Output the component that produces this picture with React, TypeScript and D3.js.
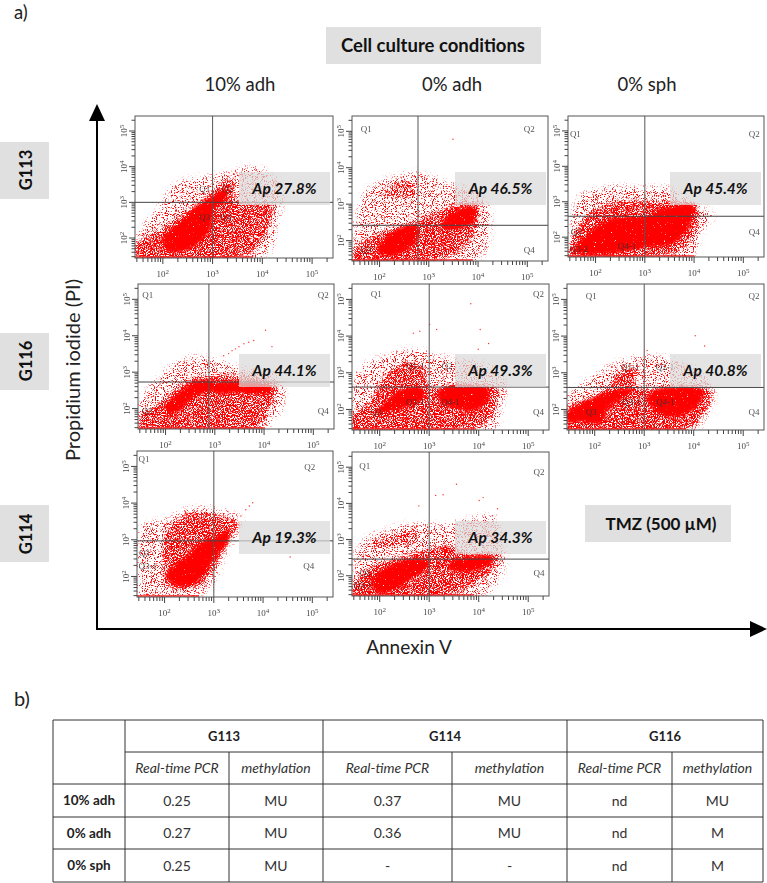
import React from "react";
import * as d3 from "d3";

type Pt = [number, number]; // decimal exponents of annexin, PI
type Lbl = [string, number, number];

const conditions = ["10% adh", "0% adh", "0% sph"];
const decades = [2, 3, 4, 5];

// outlines of the event clouds (log10 units)
const sparseA1: Pt[] = [[1.44, 2.0], [2.0, 3.06], [2.2, 3.53], [2.94, 3.76], [3.95, 4.0], [4.42, 3.43], [4.35, 2.58], [4.08, 1.5], [1.44, 1.43]];
const mediumA1: Pt[] = [[1.46, 1.88], [1.93, 2.25], [2.67, 2.96], [3.41, 3.72], [3.51, 3.06], [4.21, 2.96], [4.15, 2.3], [3.74, 1.55], [1.46, 1.45]];
const denseA1: Pt[] = [[1.95, 1.95], [2.3, 2.45], [2.7, 2.95], [3.0, 3.2], [3.3, 3.42], [3.3, 3.05], [3.05, 2.75], [2.95, 2.2], [2.6, 1.7], [2.1, 1.6]];

const sparseA2: Pt[] = [[1.46, 2.16], [1.7, 3.37], [2.1, 3.7], [2.71, 3.89], [3.45, 3.61], [4.06, 3.28], [4.26, 2.72], [4.06, 1.5], [1.49, 1.39]];
const mediumA2: Pt[] = [[1.46, 1.79], [1.97, 2.21], [2.57, 2.49], [3.32, 2.91], [3.72, 3.09], [4.06, 2.95], [3.99, 2.35], [3.72, 1.79], [3.18, 1.46], [1.46, 1.41]];
const upperA2: Pt[] = [[2.0, 3.28], [2.37, 3.61], [2.71, 3.65], [2.74, 3.23], [2.37, 3.14]];
const denseA2: Pt[] = [[1.97, 1.88], [2.3, 2.3], [2.78, 2.44], [2.81, 2.07], [2.64, 1.79], [2.24, 1.55], [1.97, 1.6]];
const denseA2b: Pt[] = [[3.32, 2.63], [3.66, 2.91], [3.96, 2.93], [3.92, 2.49], [3.59, 2.3], [3.25, 2.3]];

const sparseA3: Pt[] = [[1.45, 2.09], [1.66, 3.18], [2.34, 3.46], [2.95, 3.42], [3.49, 3.42], [4.09, 2.94], [4.4, 2.61], [4.16, 2.09], [4.03, 1.45], [1.45, 1.43]];
const mediumA3: Pt[] = [[1.45, 1.81], [1.8, 2.61], [2.41, 3.04], [2.95, 3.04], [3.49, 3.04], [4.06, 2.94], [4.06, 2.28], [3.76, 1.62], [3.28, 1.47], [1.45, 1.45]];
const denseA3: Pt[] = [[1.53, 1.67], [2.07, 2.38], [2.41, 2.58], [3.01, 2.61], [3.42, 2.87], [4.03, 2.9], [3.93, 2.33], [3.59, 1.81], [2.95, 1.67], [2.54, 1.55], [1.53, 1.53]];

const sparseB1: Pt[] = [[1.46, 2.19], [2.03, 3.12], [2.51, 3.45], [2.84, 3.45], [3.4, 3.2], [4.26, 2.93], [4.46, 2.37], [3.99, 1.42], [1.46, 1.42]];
const mediumB1: Pt[] = [[1.46, 1.81], [1.83, 2.14], [2.51, 2.84], [2.98, 2.93], [4.26, 2.7], [4.13, 2.0], [3.86, 1.46], [1.46, 1.42]];
const denseB1: Pt[] = [[1.97, 2.05], [2.3, 2.51], [2.64, 2.79], [2.98, 2.75], [2.98, 2.51], [2.57, 2.28], [2.3, 1.93], [2.03, 1.79]];
const denseB1b: Pt[] = [[2.98, 2.7], [4.2, 2.61], [4.09, 2.37], [3.52, 2.42], [3.01, 2.42]];

const sparseB2: Pt[] = [[1.43, 2.21], [1.53, 3.06], [2.14, 3.52], [2.68, 3.66], [3.42, 3.43], [4.23, 3.24], [4.57, 2.78], [4.5, 2.12], [4.3, 1.42], [1.43, 1.42]];
const mediumB2: Pt[] = [[1.43, 1.84], [1.8, 2.26], [2.1, 2.96], [2.61, 3.34], [2.91, 3.1], [3.01, 2.64], [4.4, 2.64], [4.36, 2.12], [4.2, 1.65], [3.76, 1.43], [1.43, 1.42]];
const denseB2: Pt[] = [[1.85, 1.85], [2.14, 2.26], [2.41, 2.56], [2.9, 2.59], [2.9, 2.3], [2.6, 2.05], [2.3, 1.95]];
const denseB2b: Pt[] = [[3.2, 2.59], [4.2, 2.59], [4.2, 2.2], [3.9, 1.95], [3.5, 2.0], [3.2, 2.2]];

const sparseB3: Pt[] = [[1.42, 2.37], [1.88, 2.84], [2.42, 3.31], [3.03, 3.5], [3.57, 3.4], [4.24, 2.93], [4.45, 2.47], [4.24, 1.72], [3.97, 1.39], [1.42, 1.39]];
const mediumB3: Pt[] = [[1.42, 2.05], [2.15, 2.51], [2.55, 3.12], [2.89, 3.07], [2.82, 2.65], [3.23, 2.58], [4.38, 2.51], [4.24, 1.9], [3.84, 1.42], [1.42, 1.39]];
const denseB3: Pt[] = [[1.44, 1.95], [1.9, 2.3], [2.49, 2.58], [2.85, 2.55], [2.6, 2.3], [2.3, 2.05], [2.15, 1.6], [1.74, 1.65], [1.44, 1.65]];
const denseB3b: Pt[] = [[3.05, 2.3], [3.2, 2.55], [4.2, 2.56], [4.1, 2.1], [3.6, 1.75], [3.2, 1.95]];

const sparseC1: Pt[] = [[1.42, 1.74], [1.54, 3.42], [2.02, 3.59], [2.5, 3.89], [3.24, 3.84], [3.59, 3.55], [3.24, 2.56], [2.97, 1.72], [2.7, 1.46], [1.42, 1.44]];
const mediumC1: Pt[] = [[1.95, 2.28], [2.02, 3.26], [2.5, 3.73], [2.97, 3.73], [3.52, 3.45], [3.31, 2.93], [3.04, 2.23], [2.7, 1.72], [2.36, 1.61], [1.99, 1.81]];
const denseC1: Pt[] = [[2.02, 2.09], [2.43, 2.6], [2.77, 2.97], [3.01, 3.08], [3.33, 3.3], [3.3, 2.93], [3.03, 2.47], [2.76, 1.95], [2.43, 1.68], [2.1, 1.82]];

const sparseC2: Pt[] = [[1.44, 2.12], [1.61, 2.96], [2.22, 3.34], [2.69, 3.48], [3.3, 3.43], [4.31, 3.66], [4.51, 2.96], [4.51, 2.12], [4.11, 1.42], [1.44, 1.41]];
const mediumC2: Pt[] = [[1.44, 1.75], [1.81, 2.26], [2.42, 2.54], [3.03, 2.78], [3.43, 2.87], [3.77, 2.64], [4.45, 2.59], [4.31, 2.17], [3.91, 1.75], [3.36, 1.42], [1.44, 1.41]];
const upperC2: Pt[] = [[1.81, 2.96], [2.28, 3.15], [2.69, 3.34], [2.82, 2.96], [2.35, 2.78], [1.91, 2.73]];
const denseC2: Pt[] = [[1.81, 1.93], [2.22, 2.31], [2.62, 2.48], [3.03, 2.42], [2.95, 2.15], [2.65, 1.9], [2.28, 1.56], [1.91, 1.54]];
const denseC2b: Pt[] = [[3.4, 2.4], [4.31, 2.54], [4.21, 2.25], [3.85, 2.1], [3.4, 2.15]];

// single events lying away from the clouds
const strayA2: Pt[] = [[3.49, 4.78]];
const strayB1: Pt[] = [[3.18, 3.45], [3.28, 3.51], [3.35, 3.59], [3.42, 3.64], [3.49, 3.7], [3.59, 3.78], [3.69, 3.82], [3.79, 3.87], [4.03, 4.15], [4.16, 3.7]];
const strayB2: Pt[] = [[3.84, 4.88], [3.01, 4.32], [3.15, 4.18], [2.68, 4.08], [2.81, 4.13], [4.03, 4.18], [4.2, 3.8], [3.99, 3.64]];
const strayB3: Pt[] = [[4.03, 4.01], [4.22, 3.73], [3.06, 3.61]];
const strayC1: Pt[] = [[3.65, 3.82], [3.79, 4.01], [3.72, 3.92], [3.55, 3.65], [4.55, 2.53]];
const strayC2: Pt[] = [[3.55, 4.53], [3.13, 4.22], [3.28, 4.24], [2.79, 3.93], [4.01, 4.08], [4.09, 4.16], [4.38, 3.85], [4.28, 3.66]];

const labelsA1: Lbl[] = [["Q1", 2.84, 3.38], ["Q2", 3.3, 3.38], ["Q3", 2.84, 2.6], ["Q4", 3.27, 2.6]];
const labelsA2: Lbl[] = [["Q1", 1.73, 5.07], ["Q2", 5.04, 5.07], ["Q3", 1.73, 1.74], ["Q4", 5.04, 1.74]];
const labelsA3: Lbl[] = [["Q1", 1.59, 4.92], ["Q2", 5.22, 4.92], ["Q3", 1.61, 2.14], ["Q4", 5.22, 2.14], ["Q3-2", 1.66, 1.67], ["Q4-1", 2.64, 1.75]];
const labelsB1: Lbl[] = [["Q1", 1.64, 5.11], ["Q2", 5.2, 5.11], ["Q3", 1.63, 1.93], ["Q4", 5.2, 1.95]];
const labelsB2: Lbl[] = [["Q1", 1.93, 5.14], ["Q2", 5.21, 5.14], ["Q3", 1.93, 1.93], ["Q4", 5.21, 1.93], ["Q1-1", 2.72, 3.18], ["Q2", 3.36, 3.18], ["Q3-1", 2.72, 2.21], ["Q4-1", 3.43, 2.21]];
const labelsB3: Lbl[] = [["Q1", 1.93, 5.11], ["Q2", 5.22, 5.11], ["Q3", 1.93, 1.93], ["Q4", 5.22, 1.93], ["Q1-1", 2.72, 3.17], ["Q2-1", 3.42, 3.17], ["Q3-1", 2.74, 2.21], ["Q4-1", 3.43, 2.21]];
const labelsC1: Lbl[] = [["Q1", 1.58, 5.2], ["Q2", 4.95, 4.99], ["Q3", 1.59, 2.64], ["Q3-1", 1.66, 2.28], ["Q4", 4.93, 2.3]];
const labelsC2: Lbl[] = [["Q1", 1.7, 5.05], ["Q2", 5.22, 4.86], ["Q3", 1.71, 2.09], ["Q3-1", 1.66, 1.75], ["Q4", 5.22, 2.07]];

const apValues = ["27.8", "46.5", "45.4", "44.1", "49.3", "40.8", "19.3", "34.3"];
const gateX = [3.0, 2.78, 3.0, 2.88, 3.0, 3.0, 3.0, 3.0];
const gateY = [3.0, 2.42, 2.59, 2.73, 2.61, 2.6, 2.97, 2.46];
const pileUp = [3.8, 3.9, 4.0, 4.0, 3.95, 3.85, 2.7, 3.9];

const sparse = [[sparseA1], [sparseA2], [sparseA3], [sparseB1], [sparseB2], [sparseB3], [sparseC1], [sparseC2]];
const fair = [[], [upperA2], [], [], [], [], [], [upperC2]];
const medium = [[mediumA1], [mediumA2], [mediumA3], [mediumB1], [mediumB2], [mediumB3], [mediumC1], [mediumC2]];
const dense = [[denseA1], [denseA2, denseA2b], [denseA3], [denseB1, denseB1b], [denseB2, denseB2b], [denseB3, denseB3b], [denseC1], [denseC2, denseC2b]];
const stray = [[], strayA2, [], strayB1, strayB2, strayB3, strayC1, strayC2];
const labels = [labelsA1, labelsA2, labelsA3, labelsB1, labelsB2, labelsB3, labelsC1, labelsC2];

// frames: left, right, top, bottom
const frames = [
    [135, 333, 116, 258], [352, 548, 116, 261], [568, 764, 116, 257],
    [138, 334, 284, 429], [352, 549, 284, 430], [567, 764, 284, 430],
    [137, 333, 451, 597], [352, 549, 452, 596],
];
const apBoxes = [[239, 172], [455, 172], [670, 172], [239, 354], [455, 354], [670, 354], [239, 521], [455, 521]];

const geneBoxes: [string, number, number][] = [["G113", 142, 170], ["G116", 333, 361], ["G114", 505, 534]];

const tableGenes = ["G113", "G114", "G116"];
const tableCols = ["Real-time PCR", "methylation"];
const tableRows = ["10% adh", "0% adh", "0% sph"];
const tableValues = [
    ["0.25", "MU", "0.37", "MU", "nd", "MU"],
    ["0.27", "MU", "0.36", "MU", "nd", "M"],
    ["0.25", "MU", "-", "-", "nd", "M"],
];
const tableXs = [53, 125, 229, 323, 452, 567, 672, 763];
const tableYs = [720, 752, 784, 817, 849, 882];

const font = "Lato, 'Open Sans', sans-serif";
const plotFont = "'Liberation Serif', serif";
const domainLog = [1.44, 5.42];

const Speckle = ({ id, blur, reach, cut, seed }: { id: string; blur: number; reach: number; cut: number; seed: number }) => (
    <filter id={id} x="-15%" y="-15%" width="130%" height="130%" colorInterpolationFilters="sRGB">
        <feGaussianBlur in="SourceAlpha" stdDeviation={blur} result="shape" />
        <feTurbulence type="fractalNoise" baseFrequency="0.9" numOctaves={2} seed={seed} result="noise" />
        <feColorMatrix in="noise" type="matrix" values="0 0 0 0 0  0 0 0 0 0  0 0 0 0 0  1 0 0 0 0" result="grain" />
        <feComposite in="grain" in2="shape" operator="arithmetic" k1={0} k2={9} k3={9 * reach} k4={-9 * cut} result="dots" />
        <feGaussianBlur in="dots" stdDeviation={0.5} result="soft" />
        <feComposite in="soft" in2="shape" operator="in" result="kept" />
        <feColorMatrix in="kept" type="matrix" values="0 0 0 0 1  0 0 0 0 0  0 0 0 0 0  0 0 0 1 0" />
    </filter>
);

const isMajor = (t: number) => Number.isInteger(Math.round(Math.log10(t) * 1000) / 1000);

const Panel = ({ i }: { i: number }) => {
    const [left, right, top, bottom] = frames[i];
    const x = d3.scaleLog().domain(domainLog.map((e) => 10 ** e)).range([left, right]);
    const y = d3.scaleLog().domain(domainLog.map((e) => 10 ** e)).range([bottom, top]);
    const px = (e: number) => x(10 ** e);
    const py = (e: number) => y(10 ** e);
    const outline = d3.line<Pt>().x((d) => px(d[0])).y((d) => py(d[1])).curve(d3.curveCatmullRomClosed.alpha(0.5));
    const [bx, by] = apBoxes[i];

    return (
        <g>
            <clipPath id={`clip${i}`}>
                <rect x={left} y={top} width={right - left} height={bottom - top} />
            </clipPath>
            <g clipPath={`url(#clip${i})`}>
                <g filter="url(#low)">
                    {sparse[i].map((p, k) => <path key={k} d={outline(p) ?? ""} fill="#000" />)}
                </g>
                {fair[i].length > 0 && (
                    <g filter="url(#fair)">
                        {fair[i].map((p, k) => <path key={k} d={outline(p) ?? ""} fill="#000" />)}
                    </g>
                )}
                <g filter="url(#mid)">
                    {medium[i].map((p, k) => <path key={k} d={outline(p) ?? ""} fill="#000" />)}
                </g>
                <g filter="url(#high)">
                    {dense[i].map((p, k) => <path key={k} d={outline(p) ?? ""} fill="#000" />)}
                </g>
                {stray[i].map((p, k) => <circle key={k} cx={px(p[0])} cy={py(p[1])} r={0.7} fill="#f33" />)}
                <line x1={left} x2={px(pileUp[i])} y1={bottom - 1} y2={bottom - 1} stroke="#f22" strokeWidth={1.5} />
            </g>

            {/* labels of the gates */}
            <g opacity={0.85}>
                {labels[i].map(([t, lx, ly], k) => (
                    <text key={k} x={px(lx)} y={py(ly)} dy="0.35em" textAnchor="middle" fontFamily={plotFont} fontSize={9} fill="#333">{t}</text>
                ))}
            </g>

            <line x1={px(gateX[i])} x2={px(gateX[i])} y1={top} y2={bottom} stroke="#555" strokeWidth={1} />
            <line x1={left} x2={right} y1={py(gateY[i])} y2={py(gateY[i])} stroke="#444" strokeWidth={1} />
            <rect x={left} y={top} width={right - left} height={bottom - top} fill="none" stroke="#555" strokeWidth={1} />

            {/* ticks */}
            {x.ticks().map((t) => (
                <line key={t} x1={x(t)} x2={x(t)} y1={bottom} y2={bottom + (isMajor(t) ? 6 : 4)} stroke="#444" strokeWidth={1} />
            ))}
            {y.ticks().map((t) => (
                <line key={t} x1={left} x2={left - (isMajor(t) ? 6 : 3.5)} y1={y(t)} y2={y(t)} stroke="#444" strokeWidth={1} />
            ))}
            <g opacity={0.9}>
                {decades.map((e) => (
                    <text key={e} x={px(e)} y={bottom + 19} textAnchor="middle" fontFamily={plotFont} fontSize={9} fill="#333">
                        10<tspan dy={-3.5} fontSize={7}>{e}</tspan>
                    </text>
                ))}
                {decades.map((e) => (
                    <text key={e} transform={`translate(${left - 8},${py(e)}) rotate(-90)`} textAnchor="middle" fontFamily={plotFont} fontSize={9} fill="#333">
                        10<tspan dy={-3.5} fontSize={7}>{e}</tspan>
                    </text>
                ))}
            </g>

            <rect x={bx} y={by} width={91} height={33} fill="#d9d9d9" fillOpacity={0.72} />
            <text x={bx + 45.5} y={by + 22} textAnchor="middle" fontFamily={font} fontWeight={700} fontStyle="italic" fontSize={15.5} fill="#111">
                Ap {apValues[i]}%
            </text>
        </g>
    );
};

export default function App() {
    return (
        <svg width={767} height={883} style={{ position: "absolute", left: 0, top: 0, background: "#fff" }} fontFamily={font}>
            <defs>
                <Speckle id="low" blur={3} reach={0.13} cut={0.67} seed={4} />
                <Speckle id="fair" blur={2} reach={0.16} cut={0.65} seed={6} />
                <Speckle id="mid" blur={2} reach={0.2} cut={0.63} seed={9} />
                <Speckle id="high" blur={2} reach={0.45} cut={0.66} seed={17} />
            </defs>

            <text x={14} y={18.5} fontSize={18.5} fill="#222">a)</text>
            <rect x={326} y={27} width={215} height={37} fill="#e0e0e0" />
            <text x={433} y={52} textAnchor="middle" fontWeight={700} fontSize={18.5} fill="#111">Cell culture conditions</text>
            {conditions.map((c, i) => (
                <text key={c} x={[240, 452, 647][i]} y={91} textAnchor="middle" fontSize={18.5} fill="#222">{c}</text>
            ))}

            {geneBoxes.map(([g, top, mid]) => (
                <g key={g}>
                    <rect x={0} y={top} width={49} height={57} fill="#e0e0e0" />
                    <text transform={`translate(32,${mid}) rotate(-90)`} textAnchor="middle" fontWeight={700} fontSize={16.5} fill="#111">{g}</text>
                </g>
            ))}

            {frames.map((_, i) => <Panel key={i} i={i} />)}

            {/* main axes */}
            <line x1={97} x2={97} y1={630} y2={118} stroke="#000" strokeWidth={2} />
            <path d={d3.line()([[97, 104], [105, 121], [89, 121]]) + "Z"} fill="#000" />
            <line x1={96} x2={752} y1={629} y2={629} stroke="#000" strokeWidth={2} />
            <path d={d3.line()([[767, 629], [750, 621], [750, 637]]) + "Z"} fill="#000" />
            <text transform="translate(80,370) rotate(-90)" textAnchor="middle" fontSize={20} fill="#222">Propidium iodide (PI)</text>
            <text x={409} y={654} textAnchor="middle" fontSize={19} fill="#222">Annexin V</text>

            <rect x={585} y={505} width={146} height={37} fill="#e0e0e0" />
            <text x={661} y={530} textAnchor="middle" fontWeight={700} fontSize={17} fill="#111">TMZ (500 µM)</text>

            <text x={14} y={706} fontSize={20} fill="#222">b)</text>

            {/* table b */}
            <g stroke="#333" strokeWidth={1}>
                {tableYs.map((y, k) => (
                    <line key={k} x1={k === 1 ? tableXs[1] : tableXs[0]} x2={tableXs[7]} y1={y} y2={y} />
                ))}
                {tableXs.map((x, k) => {
                    const short = k === 2 || k === 4 || k === 6;
                    return <line key={k} x1={x} x2={x} y1={short ? tableYs[1] : tableYs[0]} y2={tableYs[5]} />;
                })}
            </g>
            {tableGenes.map((g, k) => (
                <text key={g} x={(tableXs[1 + k * 2] + tableXs[3 + k * 2]) / 2} y={741} textAnchor="middle" fontWeight={700} fontSize={13} fill="#222">{g}</text>
            ))}
            {tableGenes.map((_, k) => tableCols.map((c, m) => (
                <text key={`${k}${m}`} x={(tableXs[1 + k * 2 + m] + tableXs[2 + k * 2 + m]) / 2} y={773} textAnchor="middle" fontStyle="italic" fontSize={14} fill="#333">{c}</text>
            )))}
            {tableRows.map((r, k) => (
                <text key={r} x={(tableXs[0] + tableXs[1]) / 2} y={(tableYs[k + 2] + tableYs[k + 3]) / 2 + 4.5} textAnchor="middle" fontWeight={700} fontSize={13.5} fill="#222">{r}</text>
            ))}
            {tableValues.map((row, k) => row.map((v, m) => (
                <text key={`${k}-${m}`} x={(tableXs[m + 1] + tableXs[m + 2]) / 2} y={(tableYs[k + 2] + tableYs[k + 3]) / 2 + 5} textAnchor="middle" fontSize={14} fill="#333">{v}</text>
            )))}
        </svg>
    );
}
